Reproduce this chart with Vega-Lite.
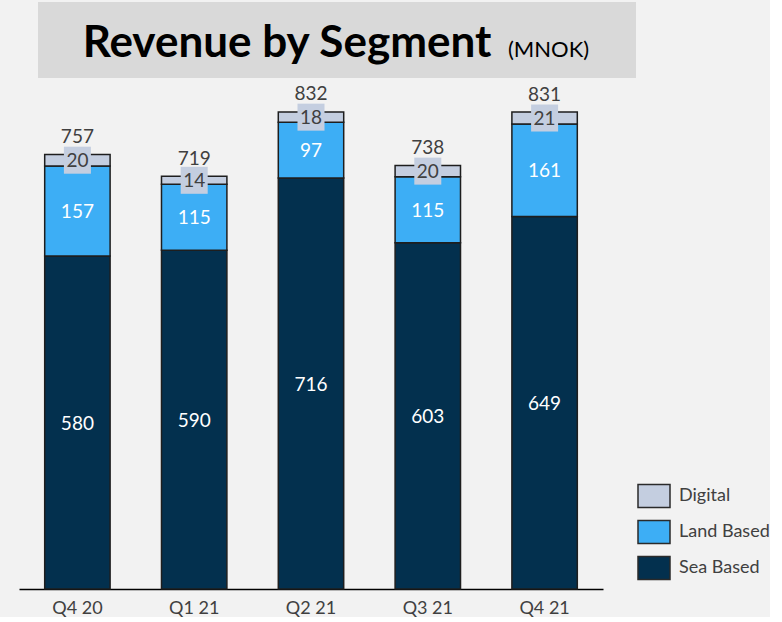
{
  "$schema": "https://vega.github.io/schema/vega-lite/v6.json",
  "background": "#f2f2f2",
  "padding": {"left": 19, "top": 2, "right": 0, "bottom": 0},
  "config": {"view": {"stroke": null}, "font": "Lato"},
  "datasets": {
    "rev": [
      {"quarter": "Q4 20", "segment": "Sea Based", "value": 580},
      {"quarter": "Q4 20", "segment": "Land Based", "value": 157},
      {"quarter": "Q4 20", "segment": "Digital", "value": 20},
      {"quarter": "Q1 21", "segment": "Sea Based", "value": 590},
      {"quarter": "Q1 21", "segment": "Land Based", "value": 115},
      {"quarter": "Q1 21", "segment": "Digital", "value": 14},
      {"quarter": "Q2 21", "segment": "Sea Based", "value": 716},
      {"quarter": "Q2 21", "segment": "Land Based", "value": 97},
      {"quarter": "Q2 21", "segment": "Digital", "value": 18},
      {"quarter": "Q3 21", "segment": "Sea Based", "value": 603},
      {"quarter": "Q3 21", "segment": "Land Based", "value": 115},
      {"quarter": "Q3 21", "segment": "Digital", "value": 20},
      {"quarter": "Q4 21", "segment": "Sea Based", "value": 649},
      {"quarter": "Q4 21", "segment": "Land Based", "value": 161},
      {"quarter": "Q4 21", "segment": "Digital", "value": 21}
    ],
    "totals": [
      {"quarter": "Q4 20", "total": 757},
      {"quarter": "Q1 21", "total": 719},
      {"quarter": "Q2 21", "total": 832},
      {"quarter": "Q3 21", "total": 738},
      {"quarter": "Q4 21", "total": 831}
    ],
    "title": [{"main": "Revenue by Segment", "unit": "(MNOK)"}]
  },
  "spacing": 3,
  "vconcat": [
    {
      "spacing": 18,
      "hconcat": [
        {
          "width": 1,
          "height": 76,
          "data": {"name": "title"},
          "mark": {"type": "text", "text": " "},
          "encoding": {}
        },
        {
          "width": 598,
          "height": 76,
          "data": {"name": "title"},
          "view": {"fill": "#d9d9d9", "stroke": null},
          "layer": [
            {
              "mark": {"type": "text", "font": "Lato", "fontWeight": "bold", "fontSize": 44, "align": "center", "baseline": "alphabetic", "dx": -50, "dy": 17, "color": "#000000"},
              "encoding": {"text": {"field": "main"}}
            },
            {
              "mark": {"type": "text", "font": "Lato", "fontSize": 22, "align": "left", "baseline": "alphabetic", "dx": 171, "dy": 17, "color": "#000000"},
              "encoding": {"text": {"field": "unit"}}
            }
          ]
        }
      ]
    },
    {
      "width": 584,
      "height": 508,
      "encoding": {
        "x": {
          "field": "quarter",
          "type": "nominal",
          "sort": null,
          "scale": {"paddingInner": 0.44, "paddingOuter": 0.22},
          "axis": {"title": null, "labelAngle": 0, "ticks": false, "domainColor": "#000000", "domainWidth": 1.5, "labelFontSize": 18, "labelColor": "#404040", "labelPadding": 10, "labelFont": "Lato"}
        }
      },
      "layer": [
        {
          "data": {"name": "rev"},
          "mark": {"type": "bar", "stroke": "#1e1e1e", "strokeWidth": 1.5},
          "encoding": {
            "y": {"field": "value", "type": "quantitative", "stack": "zero", "scale": {"domain": [0, 885], "nice": false}, "axis": null},
            "color": {
              "field": "segment",
              "type": "nominal",
              "scale": {"domain": ["Digital", "Land Based", "Sea Based"], "range": ["#c4cee0", "#3daef5", "#03304e"]},
              "legend": {"title": null, "orient": "none", "legendX": 618, "legendY": 477, "symbolType": "M-1,-0.72H1V0.72H-1Z", "symbolSize": 1024, "symbolStrokeColor": "#2a2a2a", "symbolStrokeWidth": 1.5, "symbolOpacity": 1, "labelFontSize": 18, "labelColor": "#404040", "labelFont": "Lato", "labelOffset": 8, "rowPadding": 4, "padding": 0}
            },
            "order": {"field": "segment", "sort": "descending"}
          }
        },
        {
          "data": {"name": "rev"},
          "mark": {"type": "square", "size": 729, "filled": true, "color": "#c4cee0", "strokeWidth": 0},
          "encoding": {
            "y": {"field": "value", "type": "quantitative", "stack": "zero", "bandPosition": 0.5},
            "detail": {"field": "segment"},
            "order": {"field": "segment", "sort": "descending"},
            "opacity": {"condition": {"test": "datum.segment === 'Digital'", "value": 1}, "value": 0}
          }
        },
        {
          "data": {"name": "rev"},
          "mark": {"type": "text", "fontSize": 19, "font": "Lato", "dy": 1},
          "encoding": {
            "y": {"field": "value", "type": "quantitative", "stack": "zero", "bandPosition": 0.5},
            "detail": {"field": "segment"},
            "order": {"field": "segment", "sort": "descending"},
            "text": {"field": "value", "type": "quantitative"},
            "color": {"condition": {"test": "datum.segment === 'Digital'", "value": "#404040"}, "value": "#ffffff"}
          }
        },
        {
          "data": {"name": "totals"},
          "mark": {"type": "text", "fontSize": 19, "font": "Lato", "baseline": "alphabetic", "dy": -11, "color": "#404040"},
          "encoding": {
            "y": {"field": "total", "type": "quantitative"},
            "text": {"field": "total", "type": "quantitative"}
          }
        }
      ]
    }
  ]
}
